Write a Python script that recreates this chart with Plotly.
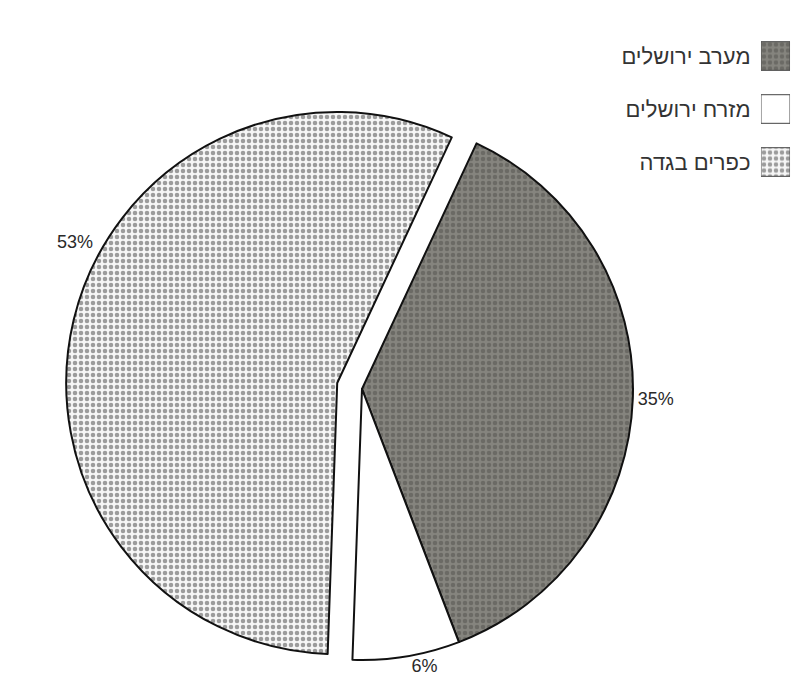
import plotly.graph_objects as go

# Share of population by area (percent, as printed on the chart)
labels = ["מערב ירושלים", "מזרח ירושלים", "כפרים בגדה"]
values = [35, 6, 53]

# Fill styles per area: textured dark grey, plain white, dotted light grey
fill_colors = ["#7e7d77", "#ffffff", "#ffffff"]
pattern_shapes = [".", "", "."]
pattern_fg = ["#6b6a65", "#ffffff", "#9c9c9c"]
pattern_bg = ["#85847e", "#ffffff", "#f6f6f6"]

FONT = "Liberation Sans, DejaVu Sans, Arial, sans-serif"

fig = go.Figure()

fig.add_trace(go.Pie(
    labels=labels,
    values=values,
    sort=False,
    direction="clockwise",
    rotation=25,
    pull=[0, 0, 0.094],
    automargin=False,
    marker=dict(
        colors=fill_colors,
        line=dict(color="#111111", width=2),
        pattern=dict(shape=pattern_shapes, fgcolor=pattern_fg, bgcolor=pattern_bg,
                     size=6, solidity=0.45, fillmode="replace"),
    ),
    texttemplate="%{value}%",
    textposition=["outside", "outside", "none"],
    textfont=dict(family=FONT, size=18, color="#2a2a2a"),
    domain=dict(x=[0.0825, 0.8293], y=[0.0036, 0.8656]),
    hoverinfo="skip",
    showlegend=False,
))

# Legend key: one small swatch per area, names to the left of them
for name, col, shp, fg, bg in zip(labels, fill_colors, pattern_shapes, pattern_fg, pattern_bg):
    fig.add_trace(go.Bar(
        x=[1],
        y=[name],
        orientation="h",
        width=0.54,
        marker=dict(
            color=col,
            line=dict(color="#444444", width=1),
            pattern=dict(shape=shp, fgcolor=fg, bgcolor=bg, size=6,
                         solidity=0.45, fillmode="replace"),
        ),
        xaxis="x2",
        yaxis="y2",
        hoverinfo="skip",
        showlegend=False,
    ))

# The big slice's label sits up and to the left of its outline
fig.add_annotation(
    text=f"{values[2]}%",
    x=0.0693, y=0.6483, xref="paper", yref="paper",
    showarrow=False,
    font=dict(family=FONT, size=18, color="#2a2a2a"),
)

fig.update_layout(
    width=794,
    height=688,
    margin=dict(l=0, r=0, t=0, b=0),
    paper_bgcolor="white",
    plot_bgcolor="white",
    showlegend=False,
    barmode="overlay",
    xaxis2=dict(domain=[0.9584, 0.9950], range=[0, 1], visible=False,
                fixedrange=True, automargin=False),
    yaxis2=dict(
        domain=[0.7260, 0.9571],
        type="category",
        categoryorder="array",
        categoryarray=labels,
        autorange="reversed",
        showgrid=False,
        zeroline=False,
        showline=False,
        ticks="outside",
        ticklen=5,
        tickcolor="rgba(0,0,0,0)",
        tickfont=dict(family=FONT, size=22, color="#333333"),
        anchor="x2",
        fixedrange=True,
        automargin=False,
    ),
)

fig.write_html("out.html")
